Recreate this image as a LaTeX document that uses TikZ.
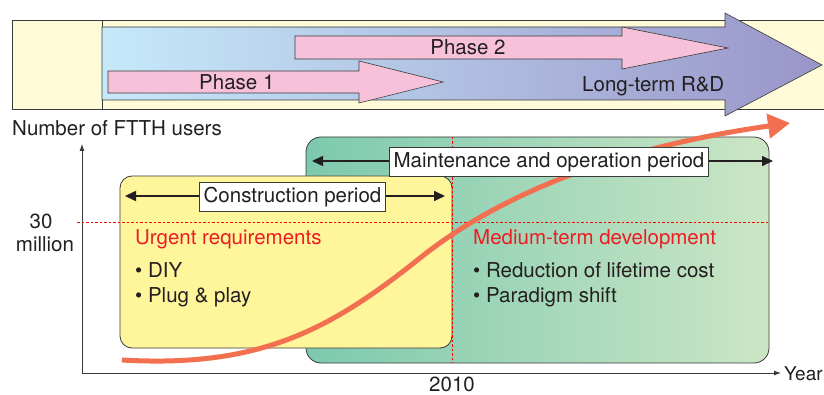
\documentclass[tikz,border=0pt]{standalone}
\usepackage{fontspec}
\setmainfont{TeX Gyre Heros}
\usetikzlibrary{arrows.meta,positioning}
\definecolor{ink}{HTML}{231F20}
\definecolor{edge}{HTML}{3A3A3A}
\definecolor{bannerY}{HTML}{FFFBD8}
\definecolor{rdL}{HTML}{C6E9F9}
\definecolor{rdR}{HTML}{9A95C9}
\definecolor{phasePink}{HTML}{F7C1D9}
\definecolor{grL}{HTML}{7DC9AE}
\definecolor{grR}{HTML}{CBE6C5}
\definecolor{yelBox}{HTML}{FFF69C}
\definecolor{redTxt}{HTML}{EC1C24}
\definecolor{usersCurve}{HTML}{F26F50}
\tikzset{
  txt/.style={anchor=base west,inner sep=0pt,font=\fontsize{20.5}{24}\selectfont,text=ink},
  redhead/.style={txt,text=redTxt},
  phasearrow/.style={fill=phasePink,draw=edge,line width=0.6pt},
  periodarrow/.style={line width=1.6pt,draw=ink,{Triangle[length=11pt,width=10pt]}-{Triangle[length=11pt,width=10pt]}},
  periodlabel/.style={draw=edge,fill=white,line width=0.6pt,inner xsep=4pt,inner ysep=0pt,minimum height=29pt,font=\fontsize{20.5}{24}\selectfont,text=ink},
  axisline/.style={draw=edge,line width=0.8pt,-{Latex[length=7pt,width=5pt]}},
  refline/.style={draw=red,line width=0.6pt,dash pattern=on 2.5pt off 2pt},
  userline/.style={draw=usersCurve,line width=5pt,-{Triangle[length=22pt,width=24pt]}}
}
\begin{document}
\begin{tikzpicture}[x=1pt,y=-1pt]
\path[use as bounding box] (0,0) rectangle (824,395);
% R&D banner
\fill[bannerY] (12,20) rectangle (824,109);
\draw[edge,line width=0.8pt] (824,20) -- (12,20) -- (12,109) -- (824,109);
\draw[edge,line width=0.8pt] (102,20) -- (102,109);
\shade[left color=rdL,right color=rdR,draw=edge,line width=0.6pt]
  (102,27) -- (725,27) -- (725,13) -- (822,65) -- (725,116) -- (725,100) -- (102,100) -- cycle;
\path[phasearrow] (108,71) -- (359,71) -- (359,61) -- (443,82) -- (359,103) -- (359,93) -- (108,93) -- cycle;
\path[phasearrow] (295,36) -- (622,36) -- (622,27) -- (728,48) -- (622,69) -- (622,59) -- (295,59) -- cycle;
\node[txt] (ph1) at (199,90) {Phase 1};
\node[txt,anchor=base] (ph2) at (468,55) {Phase 2};
\node[txt] (rnd) at (582,92) {Long-term R\&D};
% axes
\coordinate (orig) at (82,373);
\coordinate (ytop) at (82,144);
\coordinate (xend) at (781,373);
\draw[axisline] (orig) -- (ytop);
\draw[axisline] (orig) -- (xend);
\node[txt] (ylab) at (12,136) {Number of FTTH users};
\node[txt,anchor=base] (thirty) at (41,229) {30};
\node[txt,anchor=base] (million) at (45,252) {million};
\node[txt,anchor=base] (yr) at (452,391) {2010};
\node[txt,font=\fontsize{19}{22}\selectfont] (xlab) at (784,380) {Year};
% periods
\shade[left color=grL,right color=grR,draw=edge,line width=0.8pt,rounded corners=15pt]
  (306,137) rectangle (769,363);
\path[fill=yelBox,draw=edge,line width=0.8pt,rounded corners=12pt] (120,176) rectangle (452,348);
\draw[refline] (77,222) -- (768,222);
\draw[refline] (452,137) -- (452,363);
% users curve
\draw[userline] (122,360) .. controls (260,368) and (330,330) .. (420,258)
  .. controls (490,202) and (600,150) .. (790,123);
\coordinate (mainL) at (312,161);
\coordinate (mainR) at (773,161);
\draw[periodarrow] (mainL) -- (mainR);
\node[periodlabel] (mainlab) at (549,162) {Maintenance and operation period};
\coordinate (consL) at (125,196);
\coordinate (consR) at (445,196);
\draw[periodarrow] (consL) -- (consR);
\node[periodlabel] (conslab) at (292.5,197) {Construction period};
% requirements
\node[redhead] (urgent) at (135,245) {Urgent requirements};
\node[txt] (diy) at (135,277) {\textbullet\ DIY};
\node[txt] (plug) at (135,302) {\textbullet\ Plug \& play};
\node[redhead] (medium) at (473,245) {Medium-term development};
\node[txt] (lifetime) at (473,277) {\textbullet\ Reduction of lifetime cost};
\node[txt] (paradigm) at (473,302) {\textbullet\ Paradigm shift};
\end{tikzpicture}
\end{document}
